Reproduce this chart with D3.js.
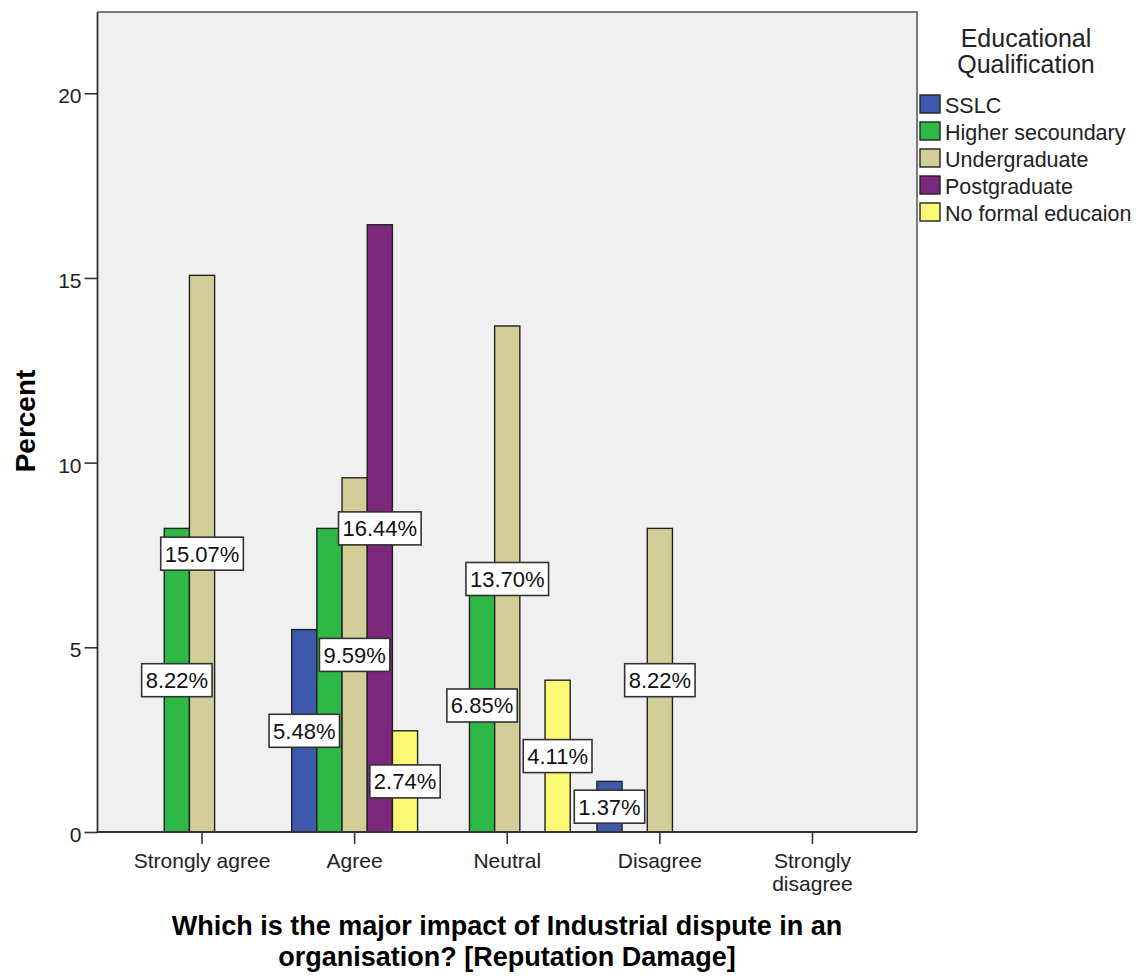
<!DOCTYPE html>
<html>
<head>
<meta charset="utf-8">
<script src="https://cdn.jsdelivr.net/npm/d3@7"></script>
<style>
  html, body { margin: 0; padding: 0; background: #ffffff; }
  svg { display: block; font-family: "Liberation Sans", Arial, sans-serif; }
</style>
</head>
<body>
<svg id="chart" width="1137" height="977"></svg>
<script>
// Response categories (x axis)
const categories = ["Strongly agree", "Agree", "Neutral", "Disagree", "Strongly disagree"];
// Educational qualification groups (legend order)
const seriesNames = ["SSLC", "Higher secoundary", "Undergraduate", "Postgraduate", "No formal educaion"];
const seriesColors = ["#3e58ac", "#2eb848", "#d3ce97", "#7c287d", "#fbf873"];

// Percent of respondents per category, one array per group
const sslc        = [0,     5.48,  0,     1.37, 0];
const higherSec   = [8.22,  8.22,  6.85,  0,    0];
const undergrad   = [15.07, 9.59,  13.70, 8.22, 0];
const postgrad    = [0,     16.44, 0,     0,    0];
const noFormal    = [0,     2.74,  4.11,  0,    0];
const seriesValues = [sslc, higherSec, undergrad, postgrad, noFormal];

const yTicks = [0, 5, 10, 15, 20];
const yTitle = "Percent";
const xTitleLines = ["Which is the major impact of Industrial dispute in an", "organisation? [Reputation Damage]"];
const legendTitleLines = ["Educational", "Qualification"];

const svg = d3.select("#chart");
const plot = { left: 97.5, right: 917, top: 12, bottom: 832 };

const x0 = d3.scaleBand().domain(categories).range([plot.left, plot.right])
  .paddingInner(0).paddingOuter(0.185);
const x1 = d3.scaleBand().domain(seriesNames).range([0, x0.bandwidth()])
  .paddingInner(0).paddingOuter(0.53);
const y = d3.scaleLinear().domain([0, 22.2]).range([plot.bottom, plot.top]);
const color = d3.scaleOrdinal().domain(seriesNames).range(seriesColors);

// Plot background
svg.append("rect")
  .attr("x", plot.left).attr("y", plot.top)
  .attr("width", plot.right - plot.left).attr("height", plot.bottom - plot.top)
  .attr("fill", "#f0f0f0");

// Flatten to one record per bar
const bars = [];
seriesNames.forEach((s, si) => {
  categories.forEach((c, ci) => {
    bars.push({ series: s, category: c, value: seriesValues[si][ci] });
  });
});
const shown = bars.filter(d => d.value > 0);

svg.append("g").selectAll("rect").data(shown).join("rect")
  .attr("x", d => x0(d.category) + x1(d.series))
  .attr("y", d => y(d.value))
  .attr("width", x1.bandwidth())
  .attr("height", d => y(0) - y(d.value))
  .attr("fill", d => color(d.series))
  .attr("stroke", "#222")
  .attr("stroke-width", 1.4);

// Frame: top and right in grey, axes in dark
svg.append("path")
  .attr("d", `M${plot.left},${plot.top}H${plot.right}V${plot.bottom}`)
  .attr("fill", "none").attr("stroke", "#7a7a7a").attr("stroke-width", 2);

// Y axis
const yAxis = svg.append("g")
  .attr("transform", `translate(${plot.left},0)`)
  .call(d3.axisLeft(y).tickValues(yTicks).tickSize(13).tickPadding(3).tickFormat(d3.format("d")));
yAxis.select(".domain").remove();
yAxis.selectAll(".tick line").attr("stroke", "#333").attr("stroke-width", 1.6);
yAxis.selectAll(".tick text").attr("font-size", 21).attr("fill", "#222")
  .attr("font-family", "Liberation Sans, Arial, sans-serif").attr("dy", "0.45em");

// X axis
const xAxis = svg.append("g")
  .attr("transform", `translate(0,${plot.bottom})`)
  .call(d3.axisBottom(x0).tickSize(12).tickFormat(""));
xAxis.select(".domain").remove();
xAxis.selectAll(".tick line").attr("stroke", "#333").attr("stroke-width", 1.6);

// Category labels, wrapped like the original ("Strongly disagree" on two lines)
const catLines = c => c === "Strongly disagree" ? ["Strongly", "disagree"] : [c];
const catLabel = svg.append("g").selectAll("text").data(categories).join("text")
  .attr("x", d => x0(d) + x0.bandwidth() / 2)
  .attr("y", 868)
  .attr("text-anchor", "middle")
  .attr("font-size", 21)
  .attr("fill", "#222");
catLabel.selectAll("tspan").data(d => catLines(d)).join("tspan")
  .attr("x", function () { return d3.select(this.parentNode).attr("x"); })
  .attr("dy", (d, i) => i === 0 ? 0 : 23)
  .text(d => d);

// Axis lines drawn over bars
svg.append("path")
  .attr("d", `M${plot.left},${plot.top}V${plot.bottom}H${plot.right}`)
  .attr("fill", "none").attr("stroke", "#333").attr("stroke-width", 1.8);

// Value labels in boxes at mid-height of each bar; a label that would overlap
// an already-placed one (placing larger values first) is left out
const labelLayer = svg.append("g");
const placed = [];
const boxH = 33, padX = 4;
const fmt = v => v.toFixed(2) + "%";
shown.slice().sort((a, b) => b.value - a.value).forEach(d => {
  const cx = x0(d.category) + x1(d.series) + x1.bandwidth() / 2;
  const cy = y(d.value / 2);
  const g = labelLayer.append("g");
  const t = g.append("text")
    .attr("x", cx).attr("y", cy)
    .attr("text-anchor", "middle")
    .attr("dy", "0.36em")
    .attr("font-size", 22)
    .attr("fill", "#111")
    .text(fmt(d.value));
  const w = t.node().getComputedTextLength() + padX * 2;
  const box = { x: cx - w / 2, y: cy - boxH / 2, w: w, h: boxH };
  const hit = placed.some(p => box.x < p.x + p.w && p.x < box.x + box.w &&
                               box.y < p.y + p.h && p.y < box.y + box.h);
  if (hit) { g.remove(); return; }
  placed.push(box);
  g.insert("rect", "text")
    .attr("x", box.x).attr("y", box.y)
    .attr("width", box.w).attr("height", box.h)
    .attr("fill", "#ffffff")
    .attr("stroke", "#333")
    .attr("stroke-width", 1.6);
});

// Y axis title
svg.append("text")
  .attr("transform", `translate(35,421) rotate(-90)`)
  .attr("text-anchor", "middle")
  .attr("font-size", 28)
  .attr("font-weight", "bold")
  .attr("fill", "#000")
  .text(yTitle);

// X axis title
svg.append("g").selectAll("text").data(xTitleLines).join("text")
  .attr("x", 507)
  .attr("y", (d, i) => 935 + i * 31)
  .attr("text-anchor", "middle")
  .attr("font-size", 27)
  .attr("font-weight", "bold")
  .attr("fill", "#000")
  .text(d => d);

// Legend
const legend = svg.append("g");
legend.selectAll("text.title").data(legendTitleLines).join("text")
  .attr("class", "title")
  .attr("x", 1026)
  .attr("y", (d, i) => 47 + i * 26)
  .attr("text-anchor", "middle")
  .attr("font-size", 25)
  .attr("fill", "#222")
  .text(d => d);

const item = legend.selectAll("g.item").data(seriesNames).join("g")
  .attr("class", "item")
  .attr("transform", (d, i) => `translate(0,${i * 27})`);
item.append("rect")
  .attr("x", 920).attr("y", 95)
  .attr("width", 20).attr("height", 18)
  .attr("fill", d => color(d))
  .attr("stroke", "#222")
  .attr("stroke-width", 1.4);
item.append("text")
  .attr("x", 945).attr("y", 113)
  .attr("font-size", 21.5)
  .attr("fill", "#222")
  .text(d => d);
</script>
</body>
</html>
